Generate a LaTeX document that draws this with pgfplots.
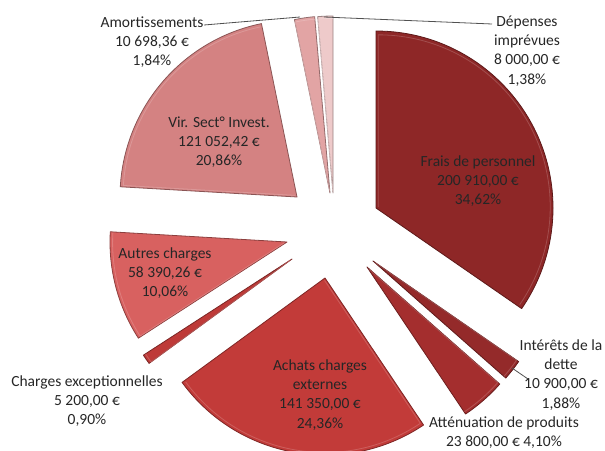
\documentclass[border=0pt]{standalone}
\usepackage{pgfplots}
\pgfplotsset{compat=1.18}
\usepackage{pgfplotstable}
\usepackage{fontspec}
\setmainfont{Carlito}

\definecolor{c0}{HTML}{8E2727}
\definecolor{c1}{HTML}{942A2A}
\definecolor{c2}{HTML}{A42E2E}
\definecolor{c3}{HTML}{C23B39}
\definecolor{c4}{HTML}{BE3A38}
\definecolor{c5}{HTML}{D86160}
\definecolor{c6}{HTML}{D48282}
\definecolor{c7}{HTML}{E2A4A4}
\definecolor{c8}{HTML}{EECACA}
\definecolor{txt}{HTML}{262626}

% slice data: value (EUR), share (%), tip of the exploded slice (image px)
\pgfplotstableread[col sep=comma]{
value,pct,tx,ty
200910.00,34.62,376,208
10900.00,1.88,373,261
23800.00,4.10,367,267
141350.00,24.36,325,278
5200.00,0.90,292,259
58390.26,10.06,287,242
121052.42,20.86,297,197
10698.36,1.84,330,193
8000.00,1.38,333,193
}\piedata

\begin{document}
\begin{tikzpicture}
\begin{axis}[x=1pt, y=1pt, xmin=0, xmax=605, ymin=0, ymax=450,
  y dir=reverse, hide axis, clip=false, scale only axis]
\pgfplotsextra{
  \path (axis cs:0,0) rectangle (axis cs:605,450);
  \begin{scope}
  \clip (axis cs:0,0) rectangle (axis cs:605,450);
  \pgfplotstablegetrowsof{\piedata}
  \pgfmathtruncatemacro\N{\pgfplotsretval-1}
  \gdef\cum{0}
  \foreach \i in {0,...,\N}{
    \pgfplotstablegetelem{\i}{pct}\of\piedata \let\p\pgfplotsretval
    \pgfplotstablegetelem{\i}{tx}\of\piedata \let\tx\pgfplotsretval
    \pgfplotstablegetelem{\i}{ty}\of\piedata \let\ty\pgfplotsretval
    \pgfmathsetmacro\aone{90-3.6*\cum}
    \pgfmathsetmacro\atwo{90-3.6*(\cum+\p)}
    \pgfmathsetmacro\newcum{\cum+\p}
    \xdef\cum{\newcum}
    \fill[fill=c\i, draw=c\i!65!black, line width=0.8pt, line join=round]
      (axis cs:\tx,\ty) -- ++(\aone:177pt)
      arc[start angle=\aone, end angle=\atwo, radius=177pt] -- cycle;
    \draw[c\i!70!white, line width=0.8pt, line join=round, opacity=0.6]
      (axis cs:\tx,\ty) ++(\aone/2+\atwo/2:2.5pt) -- ++(\aone:172pt)
      arc[start angle=\aone, end angle=\atwo, radius=172pt];
  }
  \end{scope}
  \draw[txt!80, line width=0.8pt] (axis cs:204,25) -- (axis cs:300,17);
  \draw[txt!80, line width=0.8pt] (axis cs:324,17) -- (axis cs:492,24);
  \draw[txt!80, line width=0.8pt] (axis cs:512,368) -- (axis cs:528,379);
  \begin{scope}[every node/.style={align=center, inner sep=0pt, text=txt,
      font=\fontsize{15.5}{19.2}\selectfont}]
    \node at (axis cs:152,42) {Amortissements\\10 698,36 €\\1,84\%};
    \node at (axis cs:527,51) {Dépenses\\imprévues\\8 000,00 €\\1,38\%};
    \node at (axis cs:219,142) {Vir. Sect° Invest.\\121 052,42 €\\20,86\%};
    \node at (axis cs:478,181) {Frais de personnel\\200 910,00 €\\34,62\%};
    \node at (axis cs:165,273) {Autres charges\\58 390,26 €\\10,06\%};
    \node at (axis cs:87,401) {Charges exceptionnelles\\5 200,00 €\\0,90\%};
    \node at (axis cs:320,395) {Achats charges\\externes\\141 350,00 €\\24,36\%};
    \node at (axis cs:561,375) {Intérêts de la\\dette\\10 900,00 €\\1,88\%};
    \node at (axis cs:504,433) {Atténuation de produits\\23 800,00 € 4,10\%};
  \end{scope}
}
\end{axis}
\end{tikzpicture}
\end{document}
